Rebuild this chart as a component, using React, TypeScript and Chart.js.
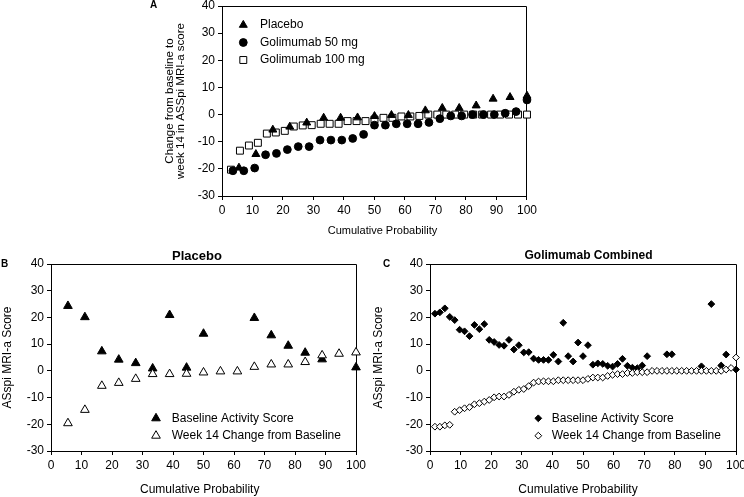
import React, { useEffect, useRef } from 'react';
import { Chart, registerables } from 'chart.js';

Chart.register(...registerables);

// ---------- data ----------
const X_MIN = 0;
const X_MAX = 100;
const Y_MIN = -30;
const Y_MAX = 40;
const TICK_STEP = 10;

// Panel A / B: week 14 change from baseline, sorted (placebo, n=18)
const PLACEBO_CHANGE = [-19.6, -14.6, -5.6, -4.5, -3.0, -1.2, -1.2, -1.1, -0.6, -0.2, -0.2, 1.5, 2.4, 2.4, 3.3, 5.8, 6.4, 6.9];
// Panel A: golimumab 50 mg (n=28)
const GOLI50_CHANGE = [-20.7, -20.7, -19.7, -14.8, -14.3, -12.9, -11.8, -11.8, -9.4, -9.4, -9.4, -8.8, -7.3, -3.9, -3.9, -3.4, -3.4, -3.4, -2.9, -1.5, -0.5, -0.5, 0, 0, 0, 0.5, 1.1, 5.4];
// Panel A: golimumab 100 mg (n=34)
const GOLI100_CHANGE = [-20.3, -13.3, -11.4, -10.4, -7.0, -6.6, -6.0, -4.4, -4.0, -3.9, -3.4, -3.4, -3.4, -2.4, -2.4, -2.4, -1.8, -1.2, -1.2, -0.7, -0.7, -0.5, 0, 0, 0, 0, 0, 0, 0, 0, 0, 0, 0, 0];
// Panel B: baseline activity score of placebo patients (null = not visible)
const PLACEBO_BASELINE = [24.3, 20.1, 7.3, 4.2, 2.9, 0.9, 20.9, 1.2, 13.9, null, null, 19.8, 13.3, 9.4, 6.8, 4.3, null, 1.3];
// Panel C: golimumab combined (n=62)
const COMBINED_CHANGE = [
  -20.9, -20.9, -20.4, -20.2, -15.3, -14.7, -14.0, -13.6, -12.5, -12.1,
  -11.5, -10.9, -9.9, -9.6, -9.6, -9.0, -7.8, -7.1, -6.8, -5.7,
  -4.4, -4.0, -3.9, -3.9, -3.9, -3.5, -3.5, -3.5, -3.5, -3.5,
  -3.5, -3.0, -2.5, -2.5, -2.5, -1.9, -1.5, -1.2, -1.2, -0.8,
  -0.8, -0.5, -0.5, -0.5, 0, 0, 0, 0, 0, 0,
  0, 0, 0, 0, 0, 0, 0, 0, 0, 0.5,
  1.1, 5.0,
];
const COMBINED_BASELINE = [
  21.4, 21.9, 23.4, 20.2, 19.0, 15.4, 14.8, 13.0, 17.2, 15.6,
  17.5, 11.6, 10.8, 9.7, 9.4, 11.6, 8.0, 9.6, 6.9, 7.0,
  4.6, 4.1, 4.1, 4.1, 6.0, 3.5, 18.0, 5.5, 3.5, 10.6,
  5.5, 9.6, 2.3, 2.8, 2.6, 1.9, 1.6, 2.6, 4.5, 1.9,
  1.2, 1.0, 2.0, 5.5, null, null, null, 6.2, 6.2, null,
  null, null, null, null, 1.7, null, 25.0, null, 2.0, 6.1,
  null, 0.5,
];

const X_TITLE = 'Cumulative Probability';
const FONT = '"Liberation Sans", Arial, Helvetica, sans-serif';

type Pt = { x: number; y: number };
const toPoints = (vals: (number | null)[]): Pt[] =>
  vals
    .map((y, i) => ({ x: ((i + 1) * 100) / vals.length, y }))
    .filter((p) => p.y !== null) as Pt[];

type MarkerStyle = 'circle' | 'triangle' | 'rect' | 'rectRot';

function drawMarker(ctx: CanvasRenderingContext2D, style: MarkerStyle, x: number, y: number, r: number, fill: string) {
  ctx.beginPath();
  if (style === 'circle') {
    ctx.arc(x, y, r, 0, Math.PI * 2);
  } else if (style === 'triangle') {
    ctx.moveTo(x, y - r);
    ctx.lineTo(x + 0.866 * r, y + 0.5 * r);
    ctx.lineTo(x - 0.866 * r, y + 0.5 * r);
    ctx.closePath();
  } else if (style === 'rect') {
    const s = Math.SQRT1_2 * r;
    ctx.rect(x - s, y - s, 2 * s, 2 * s);
  } else {
    ctx.moveTo(x - r, y);
    ctx.lineTo(x, y - r);
    ctx.lineTo(x + r, y);
    ctx.lineTo(x, y + r);
    ctx.closePath();
  }
  ctx.fillStyle = fill;
  ctx.fill();
  ctx.strokeStyle = '#000';
  ctx.lineWidth = 1;
  ctx.stroke();
}

type SeriesCfg = { label: string; values: (number | null)[]; style: MarkerStyle; r: number; fill: string };

type PanelCfg = {
  L: number; T: number; W: number; H: number;
  pl: number; pt: number; pr: number; pb: number;
  series: SeriesCfg[];
  legendOrder: number[];
  legend: { mx: number; my: number; tx: number; dy: number };
  yTitle: string | string[];
  yTitleSize: number; yTitleLH: number; yTitlePad: number;
  xTitleSize: number; xTitleX: number; xTitleY: number;
  tickSize: number;
};

function buildConfig(cfg: PanelCfg): any {
  const framePlugin = {
    id: 'frame',
    beforeDatasetsDraw(chart: any) {
      const { ctx, chartArea } = chart;
      const a = (v: number) => Math.round(v - 0.5) + 0.5;
      ctx.save();
      ctx.strokeStyle = '#000';
      ctx.lineWidth = 1;
      ctx.beginPath();
      ctx.moveTo(a(chartArea.left), a(chartArea.top));
      ctx.lineTo(a(chartArea.right), a(chartArea.top));
      ctx.lineTo(a(chartArea.right), a(chartArea.bottom));
      ctx.stroke();
      ctx.restore();
    },
  };
  const textPlugin = {
    id: 'insideLegend',
    afterDraw(chart: any) {
      const { ctx, chartArea } = chart;
      ctx.save();
      cfg.legendOrder.forEach((si, k) => {
        const s = cfg.series[si];
        const cy = chartArea.top + cfg.legend.my + k * cfg.legend.dy;
        drawMarker(ctx, s.style, chartArea.left + cfg.legend.mx, cy, s.r, s.fill);
        ctx.fillStyle = '#000';
        ctx.font = `12px ${FONT}`;
        ctx.textAlign = 'left';
        ctx.textBaseline = 'middle';
        ctx.fillText(s.label, chartArea.left + cfg.legend.tx, cy);
      });
      // x-axis title
      ctx.fillStyle = '#000';
      ctx.font = `${cfg.xTitleSize}px ${FONT}`;
      ctx.textAlign = 'center';
      ctx.textBaseline = 'middle';
      ctx.fillText(X_TITLE, cfg.xTitleX - cfg.L, cfg.xTitleY - cfg.T);
      ctx.restore();
    },
  };

  const yWidth = cfg.pl - cfg.L;
  const xHeight = cfg.T + cfg.H - cfg.pb;

  return {
    type: 'scatter',
    data: {
      datasets: cfg.series.map((s) => ({
        label: s.label,
        data: toPoints(s.values),
        pointStyle: s.style,
        pointRadius: s.r,
        pointHoverRadius: s.r,
        backgroundColor: s.fill,
        borderColor: '#000',
        borderWidth: 1,
        clip: false,
      })),
    },
    options: {
      animation: false,
      responsive: false,
      devicePixelRatio: 1,
      events: [],
      layout: { padding: { left: 0, top: cfg.pt - cfg.T, right: cfg.L + cfg.W - cfg.pr, bottom: 0 } },
      plugins: { legend: { display: false }, tooltip: { enabled: false }, title: { display: false } },
      scales: {
        x: {
          type: 'linear',
          position: 'bottom',
          min: X_MIN,
          max: X_MAX,
          ticks: { stepSize: TICK_STEP, autoSkip: false, maxRotation: 0, padding: 3, color: '#000', font: { family: FONT, size: cfg.tickSize } },
          grid: { display: true, drawOnChartArea: false, drawTicks: true, tickLength: 4, color: '#000', lineWidth: 1 },
          border: { display: true, color: '#000', width: 1 },
          title: { display: false },
          afterFit: (s: any) => { s.height = xHeight; },
        },
        y: {
          type: 'linear',
          position: 'left',
          min: Y_MIN,
          max: Y_MAX,
          ticks: { stepSize: TICK_STEP, autoSkip: false, padding: 3, color: '#000', font: { family: FONT, size: cfg.tickSize } },
          grid: { display: true, drawOnChartArea: false, drawTicks: true, tickLength: 4, color: '#000', lineWidth: 1 },
          border: { display: true, color: '#000', width: 1 },
          title: { display: true, text: cfg.yTitle, color: '#000', padding: { top: cfg.yTitlePad, bottom: 0 }, font: { family: FONT, size: cfg.yTitleSize, lineHeight: cfg.yTitleLH } },
          afterFit: (s: any) => { s.width = yWidth; },
        },
      },
    },
    plugins: [framePlugin, textPlugin],
  };
}

function Panel({ cfg }: { cfg: PanelCfg }) {
  const ref = useRef<HTMLCanvasElement>(null);
  useEffect(() => {
    const chart = new Chart(ref.current as HTMLCanvasElement, buildConfig(cfg));
    return () => chart.destroy();
  }, []);
  return (
    <canvas
      ref={ref}
      width={cfg.W}
      height={cfg.H}
      style={{ position: 'absolute', left: cfg.L, top: cfg.T, width: cfg.W, height: cfg.H, display: 'block' }}
    />
  );
}

const PANEL_A: PanelCfg = {
  L: 140, T: -10, W: 400, H: 247,
  pl: 222, pt: 6, pr: 529, pb: 196,
  series: [
    { label: 'Placebo', values: PLACEBO_CHANGE, style: 'triangle', r: 4.6, fill: '#000' },
    { label: 'Golimumab 50 mg', values: GOLI50_CHANGE, style: 'circle', r: 3.9, fill: '#000' },
    { label: 'Golimumab 100 mg', values: GOLI100_CHANGE, style: 'rect', r: 4.9, fill: '#fff' },
  ],
  legendOrder: [0, 1, 2],
  legend: { mx: 21.3, my: 19, tx: 38, dy: 17.5 },
  yTitle: ['Change from baseline to', 'week 14 in ASSpi MRI-a score'],
  yTitleSize: 11.5, yTitleLH: 1.0, yTitlePad: 24,
  xTitleSize: 11, xTitleX: 382.5, xTitleY: 230.5,
  tickSize: 12,
};

const PANEL_B: PanelCfg = {
  L: 0, T: 250, W: 370, H: 247,
  pl: 51, pt: 264, pr: 356, pb: 451,
  series: [
    { label: 'Week 14 Change from Baseline', values: PLACEBO_CHANGE, style: 'triangle', r: 5, fill: '#fff' },
    { label: 'Baseline Activity Score', values: PLACEBO_BASELINE, style: 'triangle', r: 5, fill: '#000' },
  ],
  legendOrder: [1, 0],
  legend: { mx: 105, my: 154.3, tx: 120.7, dy: 17.4 },
  yTitle: 'ASspi MRI-a Score',
  yTitleSize: 12, yTitleLH: 1.2, yTitlePad: 0,
  xTitleSize: 12, xTitleX: 199.7, xTitleY: 489.8,
  tickSize: 12,
};

const PANEL_C: PanelCfg = {
  L: 370, T: 250, W: 380, H: 247,
  pl: 430, pt: 264, pr: 736, pb: 451,
  series: [
    { label: 'Week 14 Change from Baseline', values: COMBINED_CHANGE, style: 'rectRot', r: 3.4, fill: '#fff' },
    { label: 'Baseline Activity Score', values: COMBINED_BASELINE, style: 'rectRot', r: 3.4, fill: '#000' },
  ],
  legendOrder: [1, 0],
  legend: { mx: 108.3, my: 154.3, tx: 121.7, dy: 17.4 },
  yTitle: 'ASspi MRI-a Score',
  yTitleSize: 12, yTitleLH: 1.2, yTitlePad: 1,
  xTitleSize: 12, xTitleX: 578, xTitleY: 489.8,
  tickSize: 12,
};

const textStyle = (size: number, bold: boolean): React.CSSProperties => ({
  position: 'absolute',
  fontFamily: FONT,
  fontSize: size,
  lineHeight: `${size}px`,
  fontWeight: bold ? 'bold' : 'normal',
  color: '#000',
  whiteSpace: 'nowrap',
});

export default function App() {
  return (
    <div style={{ position: 'fixed', left: 0, top: 0, width: 744, height: 497, overflow: 'hidden', background: '#fff' }}>
      <Panel cfg={PANEL_A} />
      <Panel cfg={PANEL_B} />
      <Panel cfg={PANEL_C} />
      <div style={{ ...textStyle(10, true), left: 150, top: 5.3 - 4.9 }}>A</div>
      <div style={{ ...textStyle(10, true), left: 1, top: 264 - 4.9 }}>B</div>
      <div style={{ ...textStyle(10, true), left: 383, top: 264 - 4.9 }}>C</div>
      <div style={{ ...textStyle(13, true), left: 197, top: 255 - 6.4, transform: 'translateX(-50%)' }}>Placebo</div>
      <div style={{ ...textStyle(12, true), left: 588.5, top: 255 - 5.9, transform: 'translateX(-50%)' }}>Golimumab Combined</div>
    </div>
  );
}
